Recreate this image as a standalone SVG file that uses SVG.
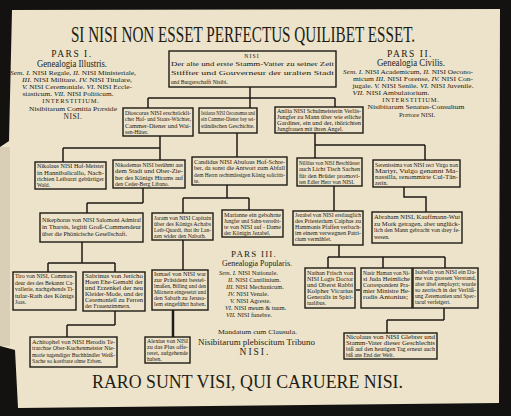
<svg xmlns="http://www.w3.org/2000/svg" width="511" height="416" viewBox="0 0 511 416">
<style>
.bx{fill:none;stroke:#1f1a14;stroke-width:1.4}
.c{fill:none;stroke:#1f1a14;stroke-width:1.5}
.t{font-family:"Liberation Serif","DejaVu Serif",serif;font-size:5.6px;fill:#1c160f}
.h{font-family:"Liberation Serif","DejaVu Serif",serif;fill:#231c14}
.it{font-style:italic}
</style>
<rect width="511" height="416" fill="#141210"/>
<polygon points="12,10 500,9 499,403 18,408 15,350 0,346 0,147 9,141" fill="#ece3ca"/>
<rect x="0" y="147" width="10" height="199" fill="#d9cfb6"/>
<text class="h" transform="translate(243,42) scale(0.66,1)" x="0" y="0" font-size="23" text-anchor="middle">SI NISI NON ESSET PERFECTUS QUILIBET ESSET.</text>
<g id="pars1" class="h" text-anchor="middle">
<text x="72" y="57" font-size="9.5" letter-spacing="1.5">PARS I.</text>
<text x="72" y="67" font-size="9.5" textLength="70" lengthAdjust="spacingAndGlyphs">Genealogia Illustris.</text>
<text x="73" y="75" font-size="6.3" textLength="126" lengthAdjust="spacingAndGlyphs"><tspan class="it">Sem. I.</tspan> NISI Regale, <tspan class="it">II.</tspan> NISI Ministeriale,</text>
<text x="77" y="82" font-size="6.3" textLength="110" lengthAdjust="spacingAndGlyphs"><tspan class="it">III.</tspan> NISI Militare. <tspan class="it">IV.</tspan> NISI Titulare,</text>
<text x="77" y="89" font-size="6.3" textLength="110" lengthAdjust="spacingAndGlyphs"><tspan class="it">V.</tspan> NISI Ceremoniale. <tspan class="it">VI.</tspan> NISI Eccle-</text>
<text x="68" y="96" font-size="6.3" textLength="91" lengthAdjust="spacingAndGlyphs">siasticum. <tspan class="it">VII.</tspan> NISI Politicum.</text>
<text x="71" y="103" font-size="6.5" letter-spacing="0.8">INTERSTITIUM.</text>
<text x="73" y="111" font-size="6.5" textLength="88" lengthAdjust="spacingAndGlyphs">Nisibitarum Comitia Præside</text>
<text x="73" y="119" font-size="7.5" letter-spacing="0.5">NISI.</text>
</g>
<g id="pars2" class="h" text-anchor="middle">
<text x="410" y="57" font-size="9.5" letter-spacing="1.5">PARS II.</text>
<text x="411" y="66" font-size="9.5" textLength="68" lengthAdjust="spacingAndGlyphs">Genealogia Civilis.</text>
<text x="408" y="74" font-size="6.3" textLength="130" lengthAdjust="spacingAndGlyphs"><tspan class="it">Sem. I.</tspan> NISI Academicum, <tspan class="it">II.</tspan> NISI Oecono-</text>
<text x="413" y="81" font-size="6.3" textLength="120" lengthAdjust="spacingAndGlyphs">micum <tspan class="it">III.</tspan> NISI Forense, <tspan class="it">IV.</tspan> NISI Con-</text>
<text x="413" y="88" font-size="6.3" textLength="121" lengthAdjust="spacingAndGlyphs">jugale. <tspan class="it">V.</tspan> NISI Senile. <tspan class="it">VI.</tspan> NISI Juvenile.</text>
<text x="391" y="95" font-size="6.3" textLength="77" lengthAdjust="spacingAndGlyphs"><tspan class="it">VII.</tspan> NISI Ambulatorium.</text>
<text x="411" y="102" font-size="6.5" letter-spacing="0.8">INTERSTITIUM.</text>
<text x="416" y="109" font-size="6.5" textLength="97" lengthAdjust="spacingAndGlyphs">Nisibitarum Senatus-Consultum</text>
<text x="417" y="116.5" font-size="6.5">Prætore NISI.</text>
</g>
<g id="pars3" class="h">
<text x="254" y="256.5" font-size="9" letter-spacing="1.2" text-anchor="middle">PARS III.</text>
<text x="222" y="266" font-size="9" textLength="70" lengthAdjust="spacingAndGlyphs">Genealogia Popularis.</text>
<text x="219" y="274.5" font-size="6.3"><tspan class="it">Sem. I.</tspan> NISI Nationale.</text>
<text x="228" y="281.5" font-size="6.3"><tspan class="it">II.</tspan> NISI Cantilinium.</text>
<text x="226" y="288.5" font-size="6.3"><tspan class="it">III.</tspan> NISI Mechanicum.</text>
<text x="228" y="295.5" font-size="6.3"><tspan class="it">IV.</tspan> NISI Venale.</text>
<text x="230" y="302.5" font-size="6.3"><tspan class="it">V.</tspan> NISI Agreste.</text>
<text x="225" y="309.5" font-size="6.3"><tspan class="it">VI.</tspan> NISI meum &amp; tuum.</text>
<text x="226" y="316.5" font-size="6.3"><tspan class="it">VII.</tspan> NISI funebre.</text>
<text x="218" y="334" font-size="6.3" textLength="79" lengthAdjust="spacingAndGlyphs">Mandatum cum Clausula.</text>
<text x="198" y="345" font-size="9" textLength="117" lengthAdjust="spacingAndGlyphs">Nisibitarum plebiscitum Tribuno</text>
<text x="255" y="355" font-size="9.5" letter-spacing="2" text-anchor="middle">NISI.</text>
</g>
<text class="h" x="92" y="388" font-size="19" textLength="311" lengthAdjust="spacingAndGlyphs">RARO SUNT VISI, QUI CARUERE NISI.</text>
<g id="connectors" class="c">
<path d="M250,87V98M148,98H335M148,98V108M250,98V108M335,98V107"/>
<path d="M160,136V160M63,148H160M63,148V162"/>
<path d="M237,133V157"/>
<path d="M315,133V158M315,145H425M425,145V160"/>
<path d="M143,188V203M87,203H143M87,203V213"/>
<path d="M227,185V198M183,198H249M183,198V213M249,198V210"/>
<path d="M334,186V211"/>
<path d="M404,187V197H426V212"/>
<path d="M82,242V263M48,263H115M48,263V272M115,263V272"/>
<path d="M183,240V270"/>
<path d="M173,310V337" stroke-width="2.5"/>
<path d="M115,311V325M67,325H115M67,325V337"/>
<path d="M339,245V257M328,257H445M328,257V268M383,257V268M445,257V268"/>
<path d="M444,308V320M387,320H444M387,320V333"/>
<path d="M356,290H360"/>
</g>
<g id="n-nisi">
<rect class="bx" x="169" y="51" width="167" height="36"/>
<text class="t" font-size="6.5" x="252" y="57.5" text-anchor="middle" letter-spacing="1.2">NISI</text>
<text class="t" font-size="7"><tspan x="171" y="65.5" textLength="163" lengthAdjust="spacingAndGlyphs">Der alte und erste Stamm-Vatter zu seiner Zeit</tspan><tspan x="171" y="74.5" textLength="163" lengthAdjust="spacingAndGlyphs">Stiffter und Gouverneur der uralten Stadt</tspan><tspan x="171" y="83.5">und Burgerschafft Nisibi.</tspan></text>
</g>
<g id="n-dioscorus">
<rect class="bx" x="123" y="108" width="70" height="28"/>
<text class="t"><tspan x="125" y="114.5" textLength="66" lengthAdjust="spacingAndGlyphs">Dioscorus NISI erschröckli-</tspan><tspan x="125" y="121" textLength="66" lengthAdjust="spacingAndGlyphs">cher Hof- und Staats-Wächter,</tspan><tspan x="125" y="127.5" textLength="66" lengthAdjust="spacingAndGlyphs">Cammer-Diener und Wai-</tspan><tspan x="125" y="134">sen-Hüter.</tspan></text>
</g>
<g id="n-isidorus">
<rect class="bx" x="199" y="108" width="58" height="25"/>
<text class="t"><tspan x="201" y="114.5" textLength="54" lengthAdjust="spacingAndGlyphs">Isidorus NISI Oeconomus und</tspan><tspan x="201" y="121" textLength="54" lengthAdjust="spacingAndGlyphs">ein Cammer-Diener bey sei-</tspan><tspan x="201" y="127.5">ständischen Geschichte.</tspan></text>
</g>
<g id="n-anilia">
<rect class="bx" x="275" y="107" width="88" height="26"/>
<text class="t"><tspan x="277" y="113" textLength="84" lengthAdjust="spacingAndGlyphs">Anilia NISI Schulmeisterin Verläs-</tspan><tspan x="277" y="119" textLength="84" lengthAdjust="spacingAndGlyphs">Jungfer zu Mann über wie etliche</tspan><tspan x="277" y="125" textLength="84" lengthAdjust="spacingAndGlyphs">Gardiner, ein und der, thörichten</tspan><tspan x="277" y="131" textLength="66" lengthAdjust="spacingAndGlyphs">Jungfrauen mit ihren Angel.</tspan></text>
</g>
<g id="n-nikolaus">
<rect class="bx" x="35" y="162" width="71" height="27"/>
<text class="t"><tspan x="37" y="168" textLength="67" lengthAdjust="spacingAndGlyphs">Nikolaus NISI Hof-Meister</tspan><tspan x="37" y="174.5" textLength="67" lengthAdjust="spacingAndGlyphs">in Hannibalicallo, Nach-</tspan><tspan x="37" y="181" textLength="67" lengthAdjust="spacingAndGlyphs">richten Leibarzt gebürtiger</tspan><tspan x="37" y="187">Wald.</tspan></text>
</g>
<g id="n-nikodemus">
<rect class="bx" x="113" y="160" width="72" height="28"/>
<text class="t"><tspan x="115" y="166.5" textLength="68" lengthAdjust="spacingAndGlyphs">Nikodemus NISI berühmt aus</tspan><tspan x="115" y="173" textLength="68" lengthAdjust="spacingAndGlyphs">dem Stadt und Ober-Zie-</tspan><tspan x="115" y="179.5" textLength="68" lengthAdjust="spacingAndGlyphs">her des Königs Hirams auf</tspan><tspan x="115" y="186">den Ceder-Berg Libano.</tspan></text>
</g>
<g id="n-candidus">
<rect class="bx" x="192" y="157" width="95" height="28"/>
<text class="t"><tspan x="194" y="163.5" textLength="91" lengthAdjust="spacingAndGlyphs">Candidus NISI Abulous Hof-Schre-</tspan><tspan x="194" y="170" textLength="91" lengthAdjust="spacingAndGlyphs">ber, da sonst die Antwort zum Abfall</tspan><tspan x="194" y="176.5" textLength="91" lengthAdjust="spacingAndGlyphs">dem Herrn rechtmässigen König solicitir-</tspan><tspan x="194" y="183">te.</tspan></text>
</g>
<g id="n-nillilus">
<rect class="bx" x="297" y="158" width="65" height="28"/>
<text class="t"><tspan x="299" y="164.5" textLength="61" lengthAdjust="spacingAndGlyphs">Nillilus von NISI Beschlüsser</tspan><tspan x="299" y="171" textLength="61" lengthAdjust="spacingAndGlyphs">auch Licht Tisch Sachen</tspan><tspan x="299" y="177.5" textLength="61" lengthAdjust="spacingAndGlyphs">für den Brüder promovi-</tspan><tspan x="299" y="184">ten Edler Herr von NISI.</tspan></text>
</g>
<g id="n-serenissima">
<rect class="bx" x="373" y="160" width="87" height="27"/>
<text class="t"><tspan x="375" y="166.5" textLength="83" lengthAdjust="spacingAndGlyphs">Serenissima von NISI rect Virgo non</tspan><tspan x="375" y="172.5" textLength="83" lengthAdjust="spacingAndGlyphs">Martyr, Vulgo genannt Ma-</tspan><tspan x="375" y="178.5" textLength="83" lengthAdjust="spacingAndGlyphs">nassilla, renommirte Cul-Tän-</tspan><tspan x="375" y="184.5">zerin.</tspan></text>
</g>
<g id="n-nikephorus">
<rect class="bx" x="40" y="213" width="103" height="29"/>
<text class="t" font-size="6"><tspan x="42" y="222" textLength="99" lengthAdjust="spacingAndGlyphs">Nikephorus von NISI Salomoni Admiral</tspan><tspan x="42" y="229" textLength="99" lengthAdjust="spacingAndGlyphs">in Tharsis, legitit Groß-Commendeur</tspan><tspan x="42" y="236" textLength="85" lengthAdjust="spacingAndGlyphs">über die Phönicische Gesellschaft.</tspan></text>
</g>
<g id="n-joram">
<rect class="bx" x="152" y="213" width="61" height="27"/>
<text class="t"><tspan x="154" y="219.5" textLength="57" lengthAdjust="spacingAndGlyphs">Joram von NISI Capitain</tspan><tspan x="154" y="225.5" textLength="57" lengthAdjust="spacingAndGlyphs">über des Königs Achabs</tspan><tspan x="154" y="231.5" textLength="57" lengthAdjust="spacingAndGlyphs">Leib-Quardi, that ihr Lan-</tspan><tspan x="154" y="237.5" textLength="52" lengthAdjust="spacingAndGlyphs">zen wider den Naboth.</tspan></text>
</g>
<g id="n-marianne">
<rect class="bx" x="222" y="210" width="61" height="27"/>
<text class="t"><tspan x="224" y="216.5" textLength="57" lengthAdjust="spacingAndGlyphs">Marianne ein gebohrne</tspan><tspan x="224" y="222.5" textLength="57" lengthAdjust="spacingAndGlyphs">Jungfer und Sahn-verreibt-</tspan><tspan x="224" y="228.5" textLength="57" lengthAdjust="spacingAndGlyphs">te von NISI auf - Dame</tspan><tspan x="224" y="234.5">der Königin Jezabel.</tspan></text>
</g>
<g id="n-jezabel">
<rect class="bx" x="293" y="211" width="70" height="34"/>
<text class="t"><tspan x="295" y="217" textLength="66" lengthAdjust="spacingAndGlyphs">Jezabel von NISI erstlauglich</tspan><tspan x="295" y="223" textLength="66" lengthAdjust="spacingAndGlyphs">des Priesterium Caiphas zu</tspan><tspan x="295" y="229" textLength="66" lengthAdjust="spacingAndGlyphs">Hammonis Pfaffen verbach-</tspan><tspan x="295" y="235" textLength="66" lengthAdjust="spacingAndGlyphs">im einem verwegnen Patri-</tspan><tspan x="295" y="241">cium vermählet.</tspan></text>
</g>
<g id="n-abraham">
<rect class="bx" x="372" y="212" width="90" height="31"/>
<text class="t"><tspan x="374" y="219" textLength="86" lengthAdjust="spacingAndGlyphs">Abraham NISI, Kauffmann-Wut</tspan><tspan x="374" y="225.5" textLength="86" lengthAdjust="spacingAndGlyphs">zu Mork getragen, aber unglück-</tspan><tspan x="374" y="232" textLength="86" lengthAdjust="spacingAndGlyphs">lich den Mann gebracht von drey fe-</tspan><tspan x="374" y="238.5">wesen.</tspan></text>
</g>
<g id="n-tiro">
<rect class="bx" x="13" y="272" width="63" height="38"/>
<text class="t"><tspan x="15" y="278" textLength="59" lengthAdjust="spacingAndGlyphs">Tiro von NISI, Comman-</tspan><tspan x="15" y="284.5" textLength="59" lengthAdjust="spacingAndGlyphs">deur des des Bekannt Ca-</tspan><tspan x="15" y="291" textLength="59" lengthAdjust="spacingAndGlyphs">vallerie, nachgehends Ti-</tspan><tspan x="15" y="297.5" textLength="59" lengthAdjust="spacingAndGlyphs">tular-Rath des Königs</tspan><tspan x="15" y="304">Joas.</tspan></text>
</g>
<g id="n-sabrinus">
<rect class="bx" x="83" y="272" width="62" height="39"/>
<text class="t"><tspan x="85" y="277.5" textLength="58" lengthAdjust="spacingAndGlyphs">Sabrinus von Jericho</tspan><tspan x="85" y="283.5" textLength="58" lengthAdjust="spacingAndGlyphs">Hoen Ehe-Gemahl der</tspan><tspan x="85" y="289.5" textLength="58" lengthAdjust="spacingAndGlyphs">und Erzenkel der neu</tspan><tspan x="85" y="295.5" textLength="58" lengthAdjust="spacingAndGlyphs">Kleider-Mode, und der</tspan><tspan x="85" y="301.5" textLength="58" lengthAdjust="spacingAndGlyphs">Ceremoniell zu Ferren</tspan><tspan x="85" y="307.5">der Frauenzimmern.</tspan></text>
</g>
<g id="n-ismael">
<rect class="bx" x="152" y="270" width="56" height="40"/>
<text class="t"><tspan x="154" y="276" textLength="52" lengthAdjust="spacingAndGlyphs">Ismael von NISI war</tspan><tspan x="154" y="282" textLength="52" lengthAdjust="spacingAndGlyphs">zur Präsident bestel-</tspan><tspan x="154" y="288" textLength="52" lengthAdjust="spacingAndGlyphs">lmaßen, Billing und den</tspan><tspan x="154" y="294" textLength="52" lengthAdjust="spacingAndGlyphs">Mörnern eingesetzt und</tspan><tspan x="154" y="300" textLength="52" lengthAdjust="spacingAndGlyphs">den Sabath zu Jerusa-</tspan><tspan x="154" y="306" textLength="52" lengthAdjust="spacingAndGlyphs">lem eingeführt haben.</tspan></text>
</g>
<g id="n-nathan">
<rect class="bx" x="305" y="268" width="50" height="40"/>
<text class="t"><tspan x="307" y="274.5" textLength="46" lengthAdjust="spacingAndGlyphs">Nathan Frisch von</tspan><tspan x="307" y="280.5" textLength="46" lengthAdjust="spacingAndGlyphs">NISI Logis Doctor</tspan><tspan x="307" y="286.5" textLength="46" lengthAdjust="spacingAndGlyphs">und Oberst Rabbi</tspan><tspan x="307" y="292.5" textLength="46" lengthAdjust="spacingAndGlyphs">Kolpher Vicarius</tspan><tspan x="307" y="298.5" textLength="46" lengthAdjust="spacingAndGlyphs">Generalis in Spiri-</tspan><tspan x="307" y="304.5">tualibus.</tspan></text>
</g>
<g id="n-nasir">
<rect class="bx" x="361" y="268" width="51" height="40"/>
<text class="t"><tspan x="363" y="274.5" textLength="47" lengthAdjust="spacingAndGlyphs">Nasir Haman von Ni-</tspan><tspan x="363" y="280.5" textLength="47" lengthAdjust="spacingAndGlyphs">si Juda Heimliche</tspan><tspan x="363" y="286.5" textLength="47" lengthAdjust="spacingAndGlyphs">Correspondent Pra-</tspan><tspan x="363" y="292.5" textLength="47" lengthAdjust="spacingAndGlyphs">mier Ministre He-</tspan><tspan x="363" y="298.5" textLength="45" lengthAdjust="spacingAndGlyphs">rodis Antonius;</tspan></text>
</g>
<g id="n-isabella">
<rect class="bx" x="413" y="268" width="65" height="40"/>
<text class="t"><tspan x="415" y="274" textLength="61" lengthAdjust="spacingAndGlyphs">Isabella von NISI ein Da-</tspan><tspan x="415" y="280" textLength="61" lengthAdjust="spacingAndGlyphs">me von grossen Verstand,</tspan><tspan x="415" y="286" textLength="61" lengthAdjust="spacingAndGlyphs">aber übel employrt; wurde</tspan><tspan x="415" y="292" textLength="61" lengthAdjust="spacingAndGlyphs">so zerrisch in der Verläß-</tspan><tspan x="415" y="298" textLength="61" lengthAdjust="spacingAndGlyphs">ung Zeremonien und Spec-</tspan><tspan x="415" y="304">tacul verfeigert.</tspan></text>
</g>
<g id="n-achitophel">
<rect class="bx" x="30" y="337" width="87" height="30"/>
<text class="t"><tspan x="32" y="343.5" textLength="83" lengthAdjust="spacingAndGlyphs">Achitophel von NISI Herodis Te-</tspan><tspan x="32" y="350" textLength="83" lengthAdjust="spacingAndGlyphs">trarchae Ober-Kuchenmeister Nie-</tspan><tspan x="32" y="356.5" textLength="83" lengthAdjust="spacingAndGlyphs">morie tugendiger Buchhändler Weiß-</tspan><tspan x="32" y="363" textLength="70" lengthAdjust="spacingAndGlyphs">Sache so kostbare ohne Erben.</tspan></text>
</g>
<g id="n-alexius">
<rect class="bx" x="145" y="337" width="45" height="26"/>
<text class="t"><tspan x="147" y="343" textLength="41" lengthAdjust="spacingAndGlyphs">Alexius von NISI</tspan><tspan x="147" y="349" textLength="41" lengthAdjust="spacingAndGlyphs">zu das Plus offe-</tspan><tspan x="147" y="355" textLength="41" lengthAdjust="spacingAndGlyphs">reret, aufgehende</tspan><tspan x="147" y="361">haben.</tspan></text>
</g>
<g id="n-nicolaus">
<rect class="bx" x="344" y="333" width="93" height="26"/>
<text class="t"><tspan x="346" y="339" textLength="89" lengthAdjust="spacingAndGlyphs">Nicolaus von NISI Glebrer und</tspan><tspan x="346" y="345" textLength="89" lengthAdjust="spacingAndGlyphs">Stamm-Vater dieser Geschlechts</tspan><tspan x="346" y="351" textLength="89" lengthAdjust="spacingAndGlyphs">biß auf den heutigen Tag erneut auch</tspan><tspan x="346" y="357">biß ans End der Welt.</tspan></text>
</g>
</svg>
